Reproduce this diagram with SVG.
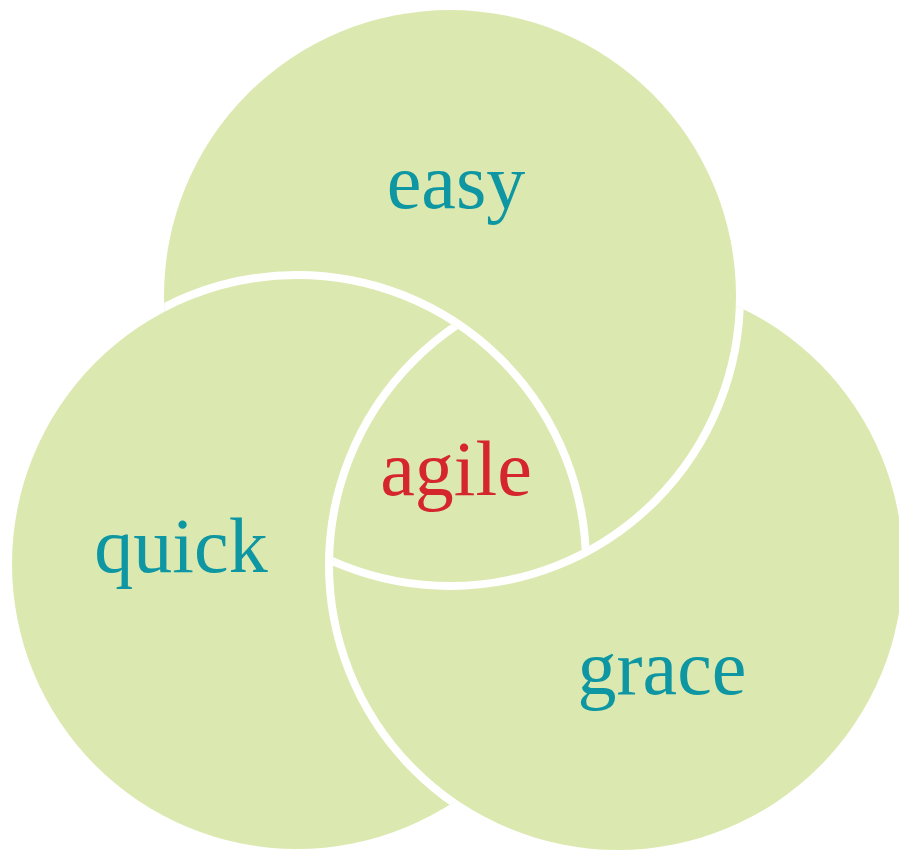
<svg xmlns="http://www.w3.org/2000/svg" width="899" height="852" viewBox="0 0 899 852">
<defs>
  <clipPath id="clipEasy"><circle cx="450" cy="296" r="286"/></clipPath>
  <clipPath id="clipGrace"><circle cx="618" cy="565" r="285"/></clipPath>
  <clipPath id="clipQuick"><circle cx="297" cy="564" r="285"/></clipPath>
</defs>
<style>
  .set { fill: #dbe9b0; }
  .edge { fill: none; stroke: #ffffff; stroke-width: 8; }
  .lbl { font-family: "Liberation Serif", "DejaVu Serif", serif; font-size: 78px; text-anchor: middle; fill: #0e96a2; }
  .mid { fill: #d4262c; }
</style>
<rect width="899" height="852" fill="#ffffff"/>
<g id="easy">
  <circle class="set" cx="450" cy="296" r="286"/>
</g>
<g id="grace">
  <circle class="set" cx="618" cy="565" r="285"/>
</g>
<g id="quick">
  <circle class="set" cx="297" cy="564" r="285"/>
</g>
<g id="connectors">
  <circle class="edge" cx="297" cy="564" r="289" clip-path="url(#clipEasy)"/>
  <circle class="edge" cx="450" cy="296" r="290" clip-path="url(#clipGrace)"/>
  <circle class="edge" cx="618" cy="565" r="289" clip-path="url(#clipQuick)"/>
</g>
<g id="labels">
  <text class="lbl" x="456" y="208">easy</text>
  <text class="lbl" x="181" y="572">quick</text>
  <text class="lbl" x="662" y="694">grace</text>
  <text class="lbl mid" x="456" y="495">agile</text>
</g>
</svg>
